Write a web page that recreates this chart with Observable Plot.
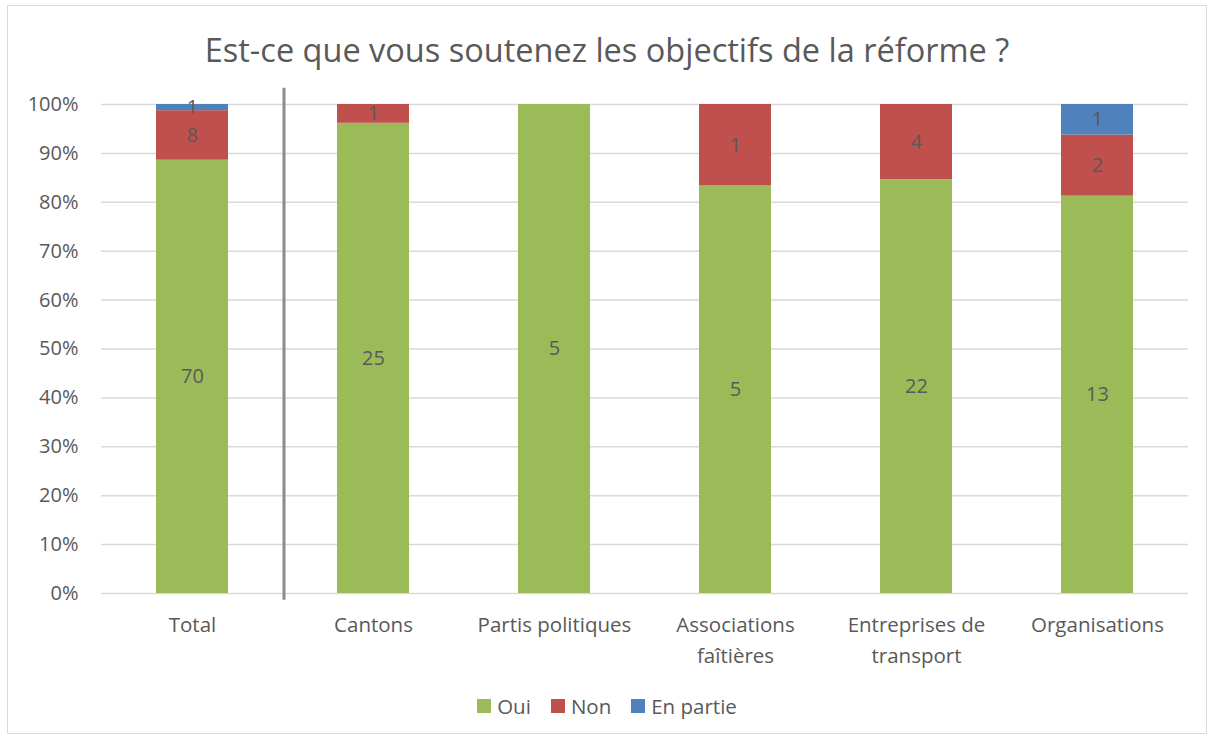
<!DOCTYPE html>
<html>
<head>
<meta charset="utf-8">
<script src="https://cdn.jsdelivr.net/npm/d3@7"></script>
<script src="https://cdn.jsdelivr.net/npm/@observablehq/plot@0.6"></script>
<style>
  html, body { margin: 0; padding: 0; background: #fff; }
  #frame { position: relative; width: 1216px; height: 740px; overflow: hidden; font-family: "Open Sans", sans-serif; color: #595959; }
  #border { position: absolute; left: 7px; top: 5px; width: 1200px; height: 729px; border: 1.5px solid #d9d9d9; box-sizing: border-box; }
  #title { position: absolute; left: 7px; width: 1200px; top: 27px; text-align: center; font-size: 32.5px; color: #595959; }
  #chart { position: absolute; left: 0; top: 0; }
  #legend { position: absolute; left: 7px; width: 1200px; top: 692px; display: flex; justify-content: center; gap: 20px; font-size: 20.5px; }
  .item { display: flex; align-items: center; gap: 6px; }
  .sw { width: 14px; height: 14px; display: inline-block; }
</style>
</head>
<body>
<div id="frame">
  <div id="border"></div>
  <div id="chart"></div>
  <div id="title">Est-ce que vous soutenez les objectifs de la réforme ?</div>
  <div id="legend"></div>
</div>
<script>
// ---- data ----
const categories = ["Total", "Cantons", "Partis politiques", "Associations\nfaîtières", "Entreprises de\ntransport", "Organisations"];
const responses = ["Oui", "Non", "En partie"];
const oui = [70, 25, 5, 5, 22, 13];
const non = [8, 1, 0, 1, 4, 2];
const enPartie = [1, 0, 0, 0, 0, 1];
const colors = ["#9bbb59", "#c0504d", "#4f81bd"];
const yTicks = [0, 0.1, 0.2, 0.3, 0.4, 0.5, 0.6, 0.7, 0.8, 0.9, 1.0];

const series = [oui, non, enPartie];
const rows = [];
categories.forEach((c, i) => {
  responses.forEach((r, j) => rows.push({category: c, response: r, value: series[j][i]}));
});

const textColor = "#595959";
const font = "'Open Sans', sans-serif";
const padInner = 0.6;

// vertical separator between "Total" and the groups, placed via the x and y scales
const separator = Plot.ruleX([categories[0]], {
  x: d => d,
  render: (index, scales, values, dims, ctx) => {
    const x = scales.x;
    const x0 = x(categories[0]);
    const x1 = x(categories[1]);
    let bw = x.bandwidth;
    if (typeof bw === "function") bw = bw();
    if (!isFinite(bw)) bw = (x1 - x0) * (1 - padInner);
    const xpos = (x0 + x1) / 2 + bw / 2 + 1.5;
    const g = d3.create("svg:g");
    g.append("line")
      .attr("x1", xpos).attr("x2", xpos)
      .attr("y1", scales.y(1.033)).attr("y2", scales.y(-0.014))
      .attr("stroke", "#8c8c8c").attr("stroke-width", 3);
    return g.node();
  }
});

const chart = Plot.plot({
  width: 1216,
  height: 680,
  marginTop: 104,
  marginBottom: 87,
  marginLeft: 101,
  marginRight: 28,
  style: {fontFamily: font, fontSize: "20px", color: textColor, background: "transparent"},
  x: {domain: categories, paddingInner: padInner, paddingOuter: padInner / 2, label: null},
  y: {domain: [0, 1], label: null},
  color: {domain: responses, range: colors},
  marks: [
    Plot.gridY(yTicks, {stroke: "#d9d9d9", strokeOpacity: 1, strokeWidth: 1.5}),
    Plot.barY(rows, Plot.stackY({offset: "normalize"}, {x: "category", y: "value", fill: "response"})),
    Plot.text(rows, Plot.stackY({offset: "normalize"}, {
      x: "category", y: "value", z: "response",
      text: d => d.value > 0 ? String(d.value) : "",
      fill: textColor, fontSize: 20
    })),
    Plot.axisY(yTicks, {tickSize: 0, tickPadding: 23, tickFormat: d3.format(".0%"), fill: textColor, fontSize: 20}),
    Plot.axisX({tickSize: 0, tickPadding: 17, lineHeight: 1.5, fill: textColor, fontSize: 20.5, textAnchor: "middle"}),
    separator
  ]
});
document.getElementById("chart").appendChild(chart);

const legend = document.getElementById("legend");
responses.forEach((r, j) => {
  const it = document.createElement("div");
  it.className = "item";
  it.innerHTML = `<span class="sw" style="background:${colors[j]}"></span><span>${r}</span>`;
  legend.appendChild(it);
});
</script>
</body>
</html>
